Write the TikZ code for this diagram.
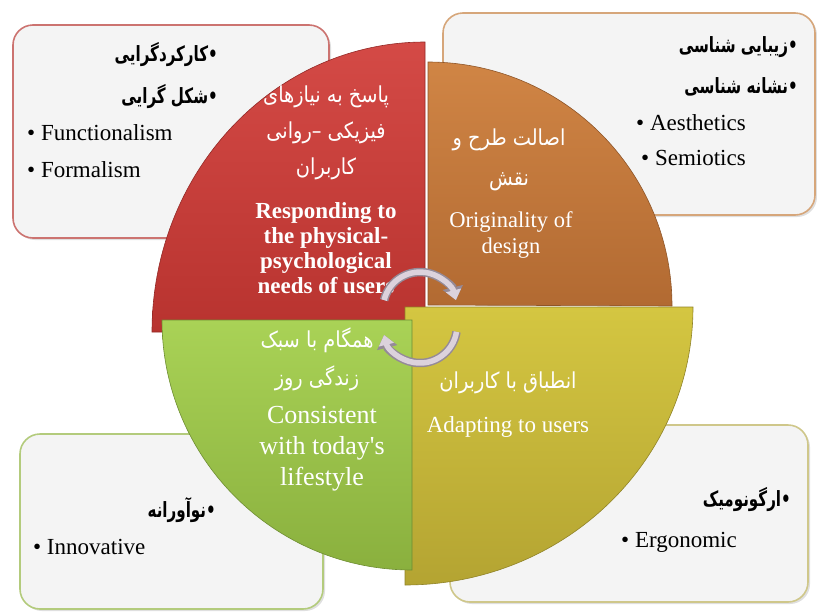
\documentclass[tikz,border=0pt]{standalone}
\usepackage{fontspec}
\setmainfont{Liberation Serif}
\newfontfamily\enfont{Liberation Serif}
\newfontfamily\fa[Script=Arabic,FakeStretch=0.88]{DejaVu Sans}
\newfontfamily\fabold[Script=Arabic,FakeStretch=0.72]{DejaVu Sans Bold}
\TeXXeTstate=1
\usetikzlibrary{arrows.meta,shadows}
\definecolor{boxfill}{HTML}{F4F4F4}
\definecolor{bdred}{HTML}{CC7370}
\definecolor{bdorange}{HTML}{D6A67A}
\definecolor{bdgreen}{HTML}{B3CB7C}
\definecolor{bdolive}{HTML}{CFC78A}
\definecolor{redT}{HTML}{D44A46}
\definecolor{redB}{HTML}{B8332F}
\definecolor{orT}{HTML}{D08545}
\definecolor{orB}{HTML}{B26A32}
\definecolor{yeT}{HTML}{D4C641}
\definecolor{yeB}{HTML}{B4A432}
\definecolor{grT}{HTML}{A9D256}
\definecolor{grB}{HTML}{8AB03E}
\definecolor{arrL}{HTML}{DCD2DC}
\definecolor{arrD}{HTML}{958A98}
\newcommand{\bul}{{\enfont\textbullet}\ }
\begin{document}
\begin{tikzpicture}[x=1pt,y=-1pt,
  infobox/.style={rounded corners=20pt, fill=boxfill, line width=1.6pt,
    drop shadow={opacity=0.25, shadow xshift=2pt, shadow yshift=-2pt}},
  quad/.style={line width=0.6pt},
  faq/.style={font=\fa\fontsize{22}{36}\selectfont, text=white, align=center, inner sep=0pt},
  enq/.style={font=\enfont\fontsize{22.5}{25}\selectfont, text=white, align=center, inner sep=0pt},
  fab/.style={font=\fabold\fontsize{21}{40}\selectfont, text=black, align=right, inner sep=0pt},
  enb/.style={font=\enfont\fontsize{23}{37}\selectfont, text=black, align=left, inner sep=0pt},
  arrout/.style={line width=8.5pt, draw=arrD, -{Triangle[length=13pt,width=20pt]}},
  arrin/.style={line width=5.5pt, draw=arrL, -{Triangle[length=10pt,width=15pt]}}
]
\useasboundingbox (0,0) rectangle (817,611);
% boxes
\draw[infobox, draw=bdred] (13,25) rectangle (329,238);
\draw[infobox, draw=bdorange] (443,13) rectangle (815,215);
\draw[infobox, draw=bdgreen] (20,434) rectangle (323,609);
\draw[infobox, draw=bdolive] (450,425) rectangle (808,602);
% quadrants
\shade[quad, top color=orT, bottom color=orB, draw=orB!80!black]
  (428,305) -- (428,62) arc[start angle=90, end angle=0, radius=244pt] -- cycle;
\shade[quad, top color=redT, bottom color=redB, draw=redB!80!black]
  (425,332) -- (152,332) arc[start angle=180, end angle=90, x radius=273pt, y radius=290pt] -- cycle;
\shade[quad, top color=yeT, bottom color=yeB, draw=yeB!80!black]
  (405,307) -- (693,307) arc[start angle=0, end angle=-90, x radius=288pt, y radius=278pt] -- cycle;
\shade[quad, top color=grT, bottom color=grB, draw=grB!80!black]
  (412,320) -- (412,570) arc[start angle=270, end angle=180, radius=250pt] -- cycle;
% quadrant texts
\node[faq] (rfa) at (326,133) {\beginR پاسخ به نیازهای\endR\\\beginR فیزیکی –روانی\endR\\\beginR کاربران\endR};
\node[enq, font=\enfont\bfseries\fontsize{23}{25}\selectfont] (ren) at (326,248) {Responding to\\the physical-\\psychological\\needs of users};
\node[faq, font=\fa\fontsize{22}{40}\selectfont] (ofa) at (509,160) {\beginR اصالت طرح و\endR\\\beginR نقش\endR};
\node[enq, font=\enfont\fontsize{22.5}{26}\selectfont] (oen) at (511,235) {Originality of\\design};
\node[faq] (yfa) at (508,383) {\beginR انطباق با کاربران\endR};
\node[enq, font=\enfont\fontsize{23}{26}\selectfont] (yen) at (508,427) {Adapting to users};
\node[faq, font=\fa\fontsize{22}{38}\selectfont] (gfa) at (317,359) {\beginR همگام با سبک\endR\\\beginR زندگی روز\endR};
\node[enq, font=\enfont\fontsize{26}{31}\selectfont] (gen) at (322,449) {Consistent\\with today's\\lifestyle};
% box texts
\node[fab, anchor=east] (tl1) at (218,55) {\beginR •کارکردگرایی\endR};
\node[fab, anchor=east] (tl2) at (218,97) {\beginR •شکل گرایی\endR};
\node[enb, anchor=west] (tl3) at (27,133) {\bul Functionalism};
\node[enb, anchor=west] (tl4) at (27,170) {\bul Formalism};
\node[fab, anchor=east] (tr1) at (798,47) {\beginR •زیبایی شناسی\endR};
\node[fab, anchor=east] (tr2) at (798,87) {\beginR •نشانه شناسی\endR};
\node[enb, anchor=west] (tr3) at (636,123) {\bul Aesthetics};
\node[enb, anchor=west] (tr4) at (641,158) {\bul Semiotics};
\node[fab, anchor=east] (bl1) at (216,510) {\beginR •نوآورانه\endR};
\node[enb, anchor=west] (bl2) at (33,547) {\bul Innovative};
\node[fab, anchor=east] (br1) at (791,500) {\beginR •ارگونومیک\endR};
\node[enb, anchor=west] (br2) at (621,542) {\bul Ergonomic};
% cycle arrows
\coordinate (a1) at (384.1,300.1);
\coordinate (a2) at (456.5,331.8);
\draw[arrout] (a1) arc[start angle=166, end angle=14, radius=37pt];
\draw[arrin] (a1) arc[start angle=166, end angle=14, radius=37pt];
\draw[arrout] (a2) arc[start angle=-9, end angle=-166, radius=37pt];
\draw[arrin] (a2) arc[start angle=-9, end angle=-166, radius=37pt];
\end{tikzpicture}
\end{document}
